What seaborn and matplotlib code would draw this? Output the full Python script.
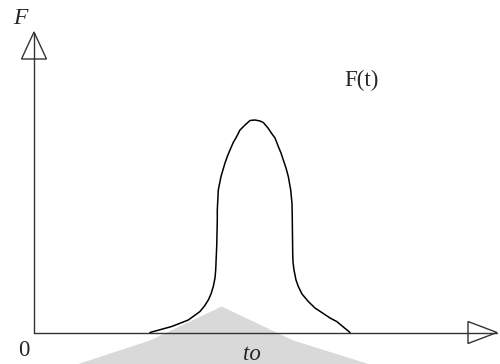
import matplotlib
matplotlib.use("Agg")
import matplotlib.pyplot as plt
import seaborn as sns
import pandas as pd

# curve F(t) (origin at the axes corner)
t_vals = [116, 137.7, 154.3, 166, 170.5, 174.3, 177, 179.3, 181, 181.7, 182.7,
          183.3, 183.3, 184.3, 187, 191, 193.5, 196, 199, 202.7, 206, 211, 216, 221,
          226, 229.3, 234, 237.7, 241, 244.3, 247, 249.3, 252, 254.3, 256.7, 258,
          258.3, 258.7, 259, 260, 262, 264.3, 268, 274.3, 281, 289.3, 296, 302.7, 316]
f_vals = [0, 6, 12.5, 21, 26.5, 32.5, 38.5, 46, 54.5, 62.5, 86,
          112.5, 122.5, 142.5, 156, 169.5, 176.5, 182.5, 189.5, 196, 202.5, 207.5, 212, 212.5,
          211.5, 210, 204.5, 199, 194.5, 186, 179.5, 172.5, 164.5, 156, 142.5, 129,
          112.5, 79, 70.5, 62.5, 52.5, 46, 38.5, 31, 24.5, 19, 14.5, 11, 0]

# light grey shape behind the axis
shade_t = [42.7, 116, 187.7, 259.3, 336]
shade_f = [-32, -8, 26, -8, -32]

df = pd.DataFrame({"t": t_vals, "F": f_vals})

sns.set_style("white")
plt.rcParams["font.family"] = ["Liberation Serif", "DejaVu Serif"]

fig = plt.figure(figsize=(5, 3.64), dpi=100)
ax = fig.add_axes([0, 0, 1, 1])
ax.set_xlim(-34, 466)
ax.set_ylim(-31.5, 332.5)

ax.fill(shade_t, shade_f, color="#d9d9d9", lw=0, zorder=1)

# axes with hollow arrow heads
ax.plot([0, 463], [0, 0], color="#333333", lw=1, zorder=2)
ax.plot([0, 0], [0, 300], color="#333333", lw=1, zorder=2)
ax.fill([434, 463, 434], [11, 0, -11], facecolor="none", edgecolor="#333333", lw=1, zorder=3)
ax.fill([-12.5, 0, 12.5], [273.5, 300.5, 273.5], facecolor="none", edgecolor="#333333", lw=1, zorder=3)

sns.lineplot(data=df, x="t", y="F", sort=False, estimator=None,
             color="black", lw=1.1, ax=ax, zorder=4)
ax.set_xlim(-34, 466)
ax.set_ylim(-31.5, 332.5)
ax.axis("off")

ax.text(-14, 313.5, "F", fontsize=17, style="italic", ha="center", va="center")
ax.text(327, 252, "F(t)", fontsize=16.5, ha="center", va="center")
ax.text(-10.5, -17.5, "0", fontsize=16.5, ha="center", va="center")
ax.text(217.7, -22.5, "to", fontsize=16.5, style="italic", ha="center", va="center")

fig.savefig("out.png", dpi=100)
